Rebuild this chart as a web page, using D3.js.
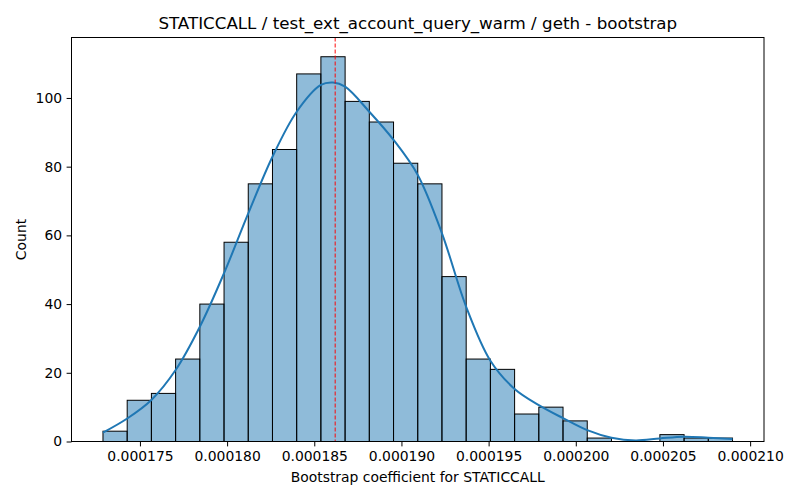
<!DOCTYPE html>
<html>
<head>
<meta charset="utf-8">
<script src="https://cdn.jsdelivr.net/npm/d3@7"></script>
<style>
  body { margin: 0; background: #fff; }
  svg text { font-family: "DejaVu Sans", sans-serif; fill: #000; }
</style>
</head>
<body>
<div id="chart"></div>
<script>
'use strict';

// histogram of bootstrap samples (26 equal-width bins)
var binMin = 0.00017288,
    binMax = 0.00020899;
var counts = [3, 12, 14, 24, 40, 58, 75, 85, 107, 112, 99, 93, 81, 75, 48,
              24, 21, 8, 10, 6, 1, 0, 0, 2, 1, 1];

// kde curve, scaled to counts (x in bin-edge units)
var kdeAt = [0, 1, 2, 3, 4, 5, 6, 7, 8, 9, 9.5, 10, 11, 12, 13, 14, 15, 16,
             17, 18, 19, 20, 21, 22, 23, 24, 25, 26];
var kdeVal = [2.6, 6.7, 12.1, 20.8, 33.4, 49, 66.4, 82.9, 96, 103.8, 104.5,
              103.3, 96, 87.8, 77.6, 60.6, 39.2, 23.5, 15.3, 10.6, 6.8, 3.3,
              1.1, 0.3, 0.9, 1.4, 1.1, 0.7];

var meanValue = 0.0001862;
var xTicks = [0.000175, 0.000180, 0.000185, 0.000190, 0.000195, 0.000200, 0.000205, 0.000210];
var yTicks = [0, 20, 40, 60, 80, 100];

var titleText = 'STATICCALL / test_ext_account_query_warm / geth - bootstrap',
    xLabel = 'Bootstrap coefficient for STATICCALL',
    yLabel = 'Count';

var width = 800,
    height = 500,
    margin = {top: 37.5, right: 36, bottom: 58.5, left: 71.5};

var svg = d3.select('#chart')
    .append('svg')
    .attr('width', width)
    .attr('height', height);

var pad = (binMax - binMin) * 0.05;
var x = d3.scaleLinear()
    .domain([binMin - pad, binMax + pad])
    .range([margin.left, width - margin.right]);
var y = d3.scaleLinear()
    .domain([0, d3.max(counts) * 1.05])
    .range([height - margin.bottom, margin.top]);

var binW = (binMax - binMin) / counts.length;
function edge(i) { return binMin + i * binW; }

// bars
svg.append('g')
    .selectAll('rect')
    .data(counts)
    .enter()
    .append('rect')
    .attr('x', function(d, i) { return x(edge(i)); })
    .attr('width', function(d, i) { return x(edge(i + 1)) - x(edge(i)); })
    .attr('y', function(d) { return y(d); })
    .attr('height', function(d) { return y(0) - y(d); })
    .attr('fill', 'rgba(31,119,180,0.5)')
    .attr('stroke', function(d) { return d > 0 ? '#000' : 'none'; })
    .attr('stroke-width', 1);

// kde line
var line = d3.line()
    .x(function(d, i) { return x(edge(kdeAt[i])); })
    .y(function(d) { return y(d); })
    .curve(d3.curveCatmullRom);
svg.append('path')
    .datum(kdeVal)
    .attr('d', line)
    .attr('fill', 'none')
    .attr('stroke', '#1f77b4')
    .attr('stroke-width', 2);

// mean marker
svg.append('line')
    .attr('x1', x(meanValue)).attr('x2', x(meanValue))
    .attr('y1', margin.top).attr('y2', height - margin.bottom)
    .attr('stroke', 'red')
    .attr('stroke-opacity', 0.8)
    .attr('stroke-width', 1.2)
    .attr('stroke-dasharray', '4,2');

// axes
var xAxis = svg.append('g')
    .attr('transform', 'translate(0,' + (height - margin.bottom) + ')')
    .call(d3.axisBottom(x).tickValues(xTicks).tickFormat(d3.format('.6f'))
        .tickSizeOuter(0).tickSize(4.9).tickPadding(4.5));
var yAxis = svg.append('g')
    .attr('transform', 'translate(' + margin.left + ',0)')
    .call(d3.axisLeft(y).tickValues(yTicks).tickSizeOuter(0)
        .tickSize(4.9).tickPadding(4.5));
[xAxis, yAxis].forEach(function(a) {
    a.select('.domain').remove();
    a.selectAll('.tick line').attr('stroke', '#000').attr('stroke-width', 1);
    a.selectAll('.tick text')
        .style('font-size', '13.9px')
        .style('font-family', '"DejaVu Sans", sans-serif');
});

// frame
svg.append('rect')
    .attr('x', margin.left)
    .attr('y', margin.top)
    .attr('width', width - margin.left - margin.right)
    .attr('height', height - margin.top - margin.bottom)
    .attr('fill', 'none')
    .attr('stroke', '#000')
    .attr('stroke-width', 1);

// labels
svg.append('text')
    .attr('x', (margin.left + width - margin.right) / 2)
    .attr('y', 29)
    .attr('text-anchor', 'middle')
    .style('font-size', '16.7px')
    .text(titleText);
svg.append('text')
    .attr('x', (margin.left + width - margin.right) / 2)
    .attr('y', 482)
    .attr('text-anchor', 'middle')
    .style('font-size', '13.9px')
    .text(xLabel);
svg.append('text')
    .attr('transform', 'translate(26,' + ((margin.top + height - margin.bottom) / 2) + ') rotate(-90)')
    .attr('text-anchor', 'middle')
    .style('font-size', '13.9px')
    .text(yLabel);
</script>
</body>
</html>
